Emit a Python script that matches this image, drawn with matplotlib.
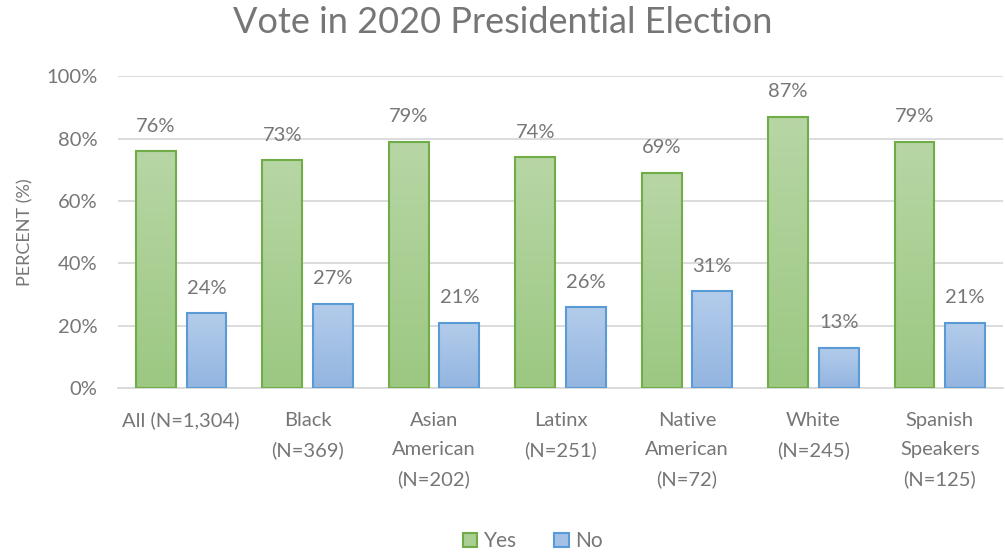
import numpy as np
import matplotlib.pyplot as plt
from matplotlib.colors import to_rgb
from matplotlib.patches import Patch

categories = ['All (N=1,304)', 'Black\n(N=369)', 'Asian\nAmerican\n(N=202)', 'Latinx\n(N=251)',
              'Native\nAmerican\n(N=72)', 'White\n(N=245)', 'Spanish\nSpeakers\n(N=125)']
yes = [76, 73, 79, 74, 69, 87, 79]
no = [24, 27, 21, 26, 31, 13, 21]

plt.rcParams['font.family'] = ['Lato', 'DejaVu Sans']
txt = '#767676'

fig = plt.figure(figsize=(10.05, 5.56), dpi=100)
ax = fig.add_axes([0.1174, 0.302, 0.8806, 0.561])

x = np.arange(len(categories))
w = 0.315
off = 0.2


def grad_bars(xs, vals, top, bottom, edge):
    bars = ax.bar(xs, vals, w, color='none', edgecolor=edge, linewidth=1.5, zorder=3)
    t = np.linspace(0, 1, 100)[:, None, None]
    c1, c2 = np.array(to_rgb(top)), np.array(to_rgb(bottom))
    img = c1 + (c2 - c1) * t
    for b in bars:
        x0, y0 = b.get_x(), b.get_y()
        ax.imshow(img, extent=[x0, x0 + b.get_width(), y0, y0 + b.get_height()],
                  aspect='auto', origin='upper', zorder=2)
    for xi, v in zip(xs, vals):
        ax.text(xi, v + 8, f'{v}%', ha='center', va='center', fontsize=14.5, color=txt)
    return bars


grad_bars(x - off, yes, '#b7d6a5', '#9cc882', '#70ad47')
grad_bars(x + off, no, '#b3cceb', '#93b5e0', '#5b9bd5')

ax.set_xlim(-0.5, len(categories) - 0.5)
ax.set_ylim(0, 100)
ax.set_yticks(range(0, 101, 20))
ax.set_yticklabels([f'{v}%' for v in range(0, 101, 20)])
ax.set_xticks(x)
ax.set_xticklabels(categories, linespacing=1.85)
ax.tick_params(axis='both', length=0, labelsize=14.5, labelcolor=txt)
ax.tick_params(axis='x', pad=17)
ax.tick_params(axis='y', pad=15)
ax.grid(axis='y', color='#d9d9d9', linewidth=1.3, zorder=0)
for s in ['top', 'right', 'left']:
    ax.spines[s].set_visible(False)
ax.spines['bottom'].set_color('#d9d9d9')
ax.spines['bottom'].set_linewidth(1.3)
ax.set_ylabel('PERCENT (%)', fontsize=13, color=txt, labelpad=9)

fig.suptitle('Vote in 2020 Presidential Election', fontsize=26, color=txt, y=0.99)

handles = [Patch(facecolor='#a9cf94', edgecolor='#70ad47', linewidth=1.5, label='Yes'),
           Patch(facecolor='#a3c1e6', edgecolor='#5b9bd5', linewidth=1.5, label='No')]
fig.legend(handles=handles, loc='lower center', ncol=2, frameon=False, fontsize=15,
           labelcolor=txt, handlelength=0.7, handleheight=0.7, handletextpad=0.3,
           columnspacing=1.8, bbox_to_anchor=(0.53, -0.025))

fig.savefig('out.png', dpi=100)
